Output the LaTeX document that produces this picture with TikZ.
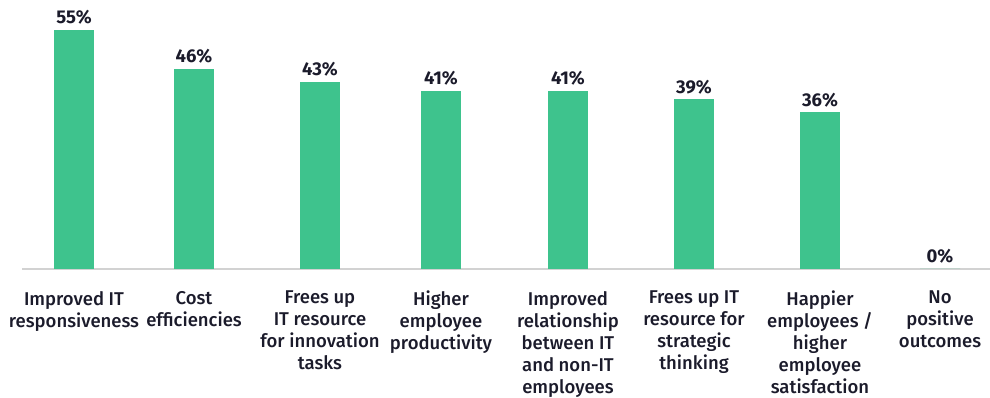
\documentclass[tikz,border=0pt]{standalone}
\usepackage{fontspec}
\setmainfont{Fira Sans}[UprightFont=* Medium, BoldFont=* Bold]
\usepackage{tikz}
\definecolor{barcolor}{RGB}{62,195,141}
\definecolor{inkcolor}{RGB}{27,27,43}
\definecolor{axiscolor}{RGB}{210,210,210}
\newcommand{\pxper}{4.345pt}
\newcommand{\mkbar}[4]{%
    \node[bar, minimum height=#3*\pxper] (#1) at (#2,269) {};
    \node[value label] (#1v) at ([yshift=5pt]#1.north) {#3\%};
    \node[cat label] (#1c) at (#2,291) {#4};
}
\tikzset{
    bar/.style={
        fill=barcolor,
        inner sep=0,
        minimum width=40pt,
        anchor=south,
    },
    value label/.style={
        font=\bfseries\fontsize{18.5}{20}\selectfont,
        text=inkcolor,
        inner sep=0,
        anchor=south,
    },
    cat label/.style={
        font=\fontsize{18.5}{22}\selectfont,
        text=inkcolor,
        align=center,
        inner sep=0,
        anchor=north,
    },
}
\begin{document}
\begin{tikzpicture}[x=1pt,y=-1pt]
    \useasboundingbox (0,0) rectangle (990,398);
    \coordinate (axisL) at (22,269);
    \coordinate (axisR) at (990,269);
    \draw[axiscolor, line width=1.5pt] (axisL) -- (axisR);

    \mkbar{b1}{74}{55}{Improved IT\\responsiveness}
    \mkbar{b2}{194}{46}{Cost\\efficiencies}
    \mkbar{b3}{320}{43}{Frees up\\IT resource\\for innovation\\tasks}
    \mkbar{b4}{441}{41}{Higher\\employee\\productivity}
    \mkbar{b5}{568}{41}{Improved\\relationship\\between IT\\and non-IT\\employees}
    \mkbar{b6}{694}{39}{Frees up IT\\resource for\\strategic\\thinking}
    \mkbar{b7}{820}{36}{Happier\\employees /\\higher\\employee\\satisfaction}
    \mkbar{b8}{940}{0}{No\\positive\\outcomes}
\end{tikzpicture}
\end{document}
